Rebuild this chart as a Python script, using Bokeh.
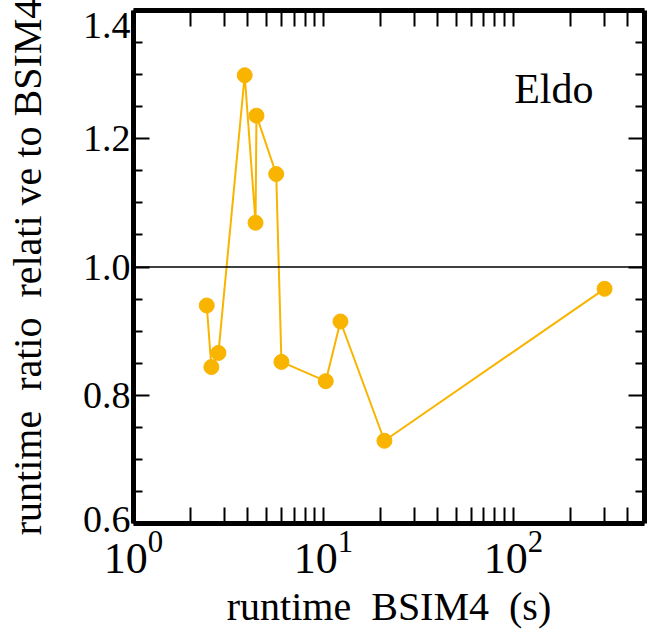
from bokeh.plotting import figure
from bokeh.models import LogAxis, LinearAxis, FixedTicker, Span, Label, Range1d, CustomJSTickFormatter
from bokeh.embed import file_html
from bokeh.resources import INLINE

# ---- data ----
runtime_bsim4 = [2.43, 2.57, 2.80, 3.85, 4.39, 4.44, 5.64, 6.01, 10.28, 12.29, 20.94, 302.0]
runtime_ratio = [0.940, 0.844, 0.866, 1.299, 1.069, 1.236, 1.145, 0.852, 0.822, 0.915, 0.729, 0.966]
reference_ratio = 1.0
x_major_ticks = [1, 10, 100]
y_major_ticks = [0.6, 0.8, 1.0, 1.2, 1.4]
y_minor_ticks = [0.65, 0.7, 0.75, 0.85, 0.9, 0.95, 1.05, 1.1, 1.15, 1.25, 1.3, 1.35]
y_tick_labels = ["0.6", "0.8", "1.0", "1.2", "1.4"]
x_start, x_end = 1, 490
y_start, y_end = 0.6, 1.4
simulator = "Eldo"
x_title = "runtime\u00a0 BSIM4\u00a0 (s)"
y_title = "runtime\u00a0 ratio\u00a0 relati ve to BSIM4"

FONT = "Liberation Serif"
COLOR = "#F9B400"

# layout (pixels)
W, H = 647, 631
FRAME_L, FRAME_R, FRAME_T, FRAME_B = 133, 3, 10, 107
frame_h = H - FRAME_T - FRAME_B
# vertical pixel nudges of the y tick labels (edge labels kept inside the frame height)
y_label_nudge_px = [4.5, 0, 0, 0, -15]

x_minor_ticks = [k * 10 ** d for d in range(3) for k in range(2, 10) if k * 10 ** d < x_end]

p = figure(width=W, height=H, x_axis_type="log",
           x_range=Range1d(x_start, x_end), y_range=Range1d(y_start, y_end),
           output_backend="svg", toolbar_location=None,
           min_border_left=FRAME_L, min_border_right=FRAME_R,
           min_border_top=FRAME_T, min_border_bottom=FRAME_B)
p.grid.visible = False
p.outline_line_color = None
p.background_fill_color = "white"
p.border_fill_color = "white"

xt = FixedTicker(ticks=x_major_ticks, minor_ticks=x_minor_ticks)
yt = FixedTicker(ticks=y_major_ticks, minor_ticks=y_minor_ticks)

bottom = p.below[0]
left = p.left[0]
top = LogAxis()
right = LinearAxis()
p.add_layout(top, "above")
p.add_layout(right, "right")

for ax in [bottom, top]:
    ax.ticker = xt
    ax.major_tick_in = 16
    ax.major_tick_out = 0
    ax.minor_tick_in = 16
    ax.minor_tick_out = 0
for ax in [left, right]:
    ax.ticker = yt
    ax.major_tick_in = 16
    ax.major_tick_out = 0
    ax.minor_tick_in = 9
    ax.minor_tick_out = 0
for ax in [bottom, top, left, right]:
    ax.axis_line_width = 5
    ax.axis_line_color = "black"
    ax.major_tick_line_width = 2
    ax.minor_tick_line_width = 2
    ax.major_tick_line_color = "black"
    ax.minor_tick_line_color = "black"

for ax in [top, right, left]:
    ax.formatter = CustomJSTickFormatter(code="return ''")
    ax.major_label_text_color = None
    ax.major_label_text_font_size = "1px"
    ax.major_label_standoff = 0
    ax.axis_label_standoff = 0

bottom.major_label_text_font = FONT
bottom.major_label_text_font_size = "44px"
bottom.major_label_text_color = "black"
bottom.major_label_standoff = 8
bottom.axis_label = x_title
bottom.axis_label_text_font = FONT
bottom.axis_label_text_font_size = "40px"
bottom.axis_label_text_font_style = "normal"
bottom.axis_label_text_color = "black"
bottom.axis_label_standoff = 8

# second left axis carrying the y tick labels and the y title
px_per_unit = frame_h / (y_end - y_start)
label_pos = [v + n / px_per_unit for v, n in zip(y_major_ticks, y_label_nudge_px)]
lab_axis = LinearAxis(
    ticker=FixedTicker(ticks=label_pos, minor_ticks=[]),
    formatter=CustomJSTickFormatter(args=dict(labels=y_tick_labels), code="return labels[index]"),
    axis_line_color=None, major_tick_line_color=None, minor_tick_line_color=None,
    major_tick_in=0, major_tick_out=0, minor_tick_in=0, minor_tick_out=0,
)
lab_axis.major_label_text_font = FONT
lab_axis.major_label_text_font_size = "38px"
lab_axis.major_label_text_color = "black"
lab_axis.major_label_standoff = 3
lab_axis.axis_label = y_title
lab_axis.axis_label_text_font = FONT
lab_axis.axis_label_text_font_size = "40px"
lab_axis.axis_label_text_font_style = "normal"
lab_axis.axis_label_text_color = "black"
lab_axis.axis_label_standoff = 30
p.add_layout(lab_axis, "left")

# reference line at ratio 1.0
p.add_layout(Span(location=reference_ratio, dimension="width", line_color="black", line_width=1.5))

p.line(runtime_bsim4, runtime_ratio, line_color=COLOR, line_width=2)
p.scatter(runtime_bsim4, runtime_ratio, size=15, fill_color=COLOR, line_color=COLOR)

p.add_layout(Label(x=101, y=1.278, text=simulator, text_align="left",
                   text_baseline="alphabetic", text_font=FONT,
                   text_font_size="42px", text_color="black"))

open("out.html", "w").write(file_html(p, INLINE))
